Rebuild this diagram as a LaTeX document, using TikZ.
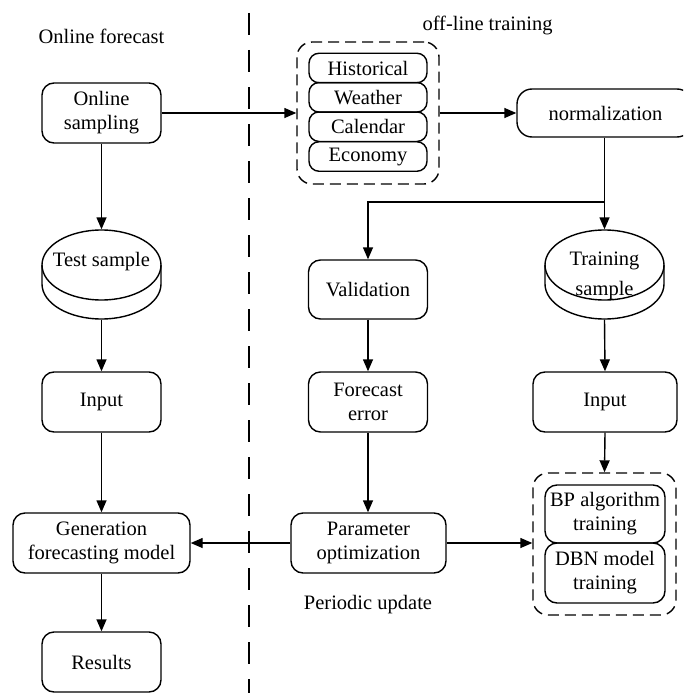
\documentclass[tikz,border=0pt]{standalone}
\usepackage{fontspec}
\setmainfont{Liberation Serif}
\newfontfamily\tnrfont{Liberation Serif}
\usetikzlibrary{arrows.meta}
\begin{document}
\begin{tikzpicture}[x=1pt,y=-1pt, line width=1.4pt,
  >={Triangle[length=12pt,width=10pt]},
  lbl/.style={font=\tnrfont\fontsize{20.5}{24}\selectfont, align=center, inner sep=0pt},
  box/.style={lbl, draw, rounded corners=12pt},
  itembox/.style={lbl, draw, rounded corners=10pt, minimum width=118pt, minimum height=29.5pt},
  grp/.style={draw, dash pattern=on 11pt off 6pt, rounded corners=15pt, inner sep=0pt},
  ghost/.style={inner sep=0pt}]
\useasboundingbox (0,0) rectangle (683,693);
\clip (0,0) rectangle (683,693);

% separator
\draw[dash pattern=on 22pt off 15pt] (249,13) -- (249,700);

% titles
\node[lbl] (t1) at (101.5,36) {Online forecast};
\node[lbl] (t2) at (487.5,25) {off-line training};
\node[lbl] (t3) at (368,605) {Periodic update};

% left column
\node[box, minimum width=119pt, minimum height=60pt] (os) at (101.5,113) {Online\\sampling};
\node[ghost, minimum width=119pt, minimum height=89pt] (ts) at (101.5,274.5) {};
\draw (42,265) -- (42,284) arc[start angle=180, end angle=0, x radius=59.5, y radius=35] -- (161,265);
\draw (101.5,265) ellipse [x radius=59.5, y radius=35];
\node[lbl] (tst) at (101.5,262) {Test sample};
\node[box, minimum width=119pt, minimum height=60pt] (inL) at (101.5,402) {Input};
\node[box, minimum width=177pt, minimum height=60pt] (gen) at (101.5,543) {Generation\\forecasting model};
\node[box, minimum width=119pt, minimum height=60pt] (res) at (101.5,662) {Results};

% data group
\node[grp, minimum width=142pt, minimum height=142pt] (dgrp) at (368,113) {};
\node[itembox] (h) at (368,68) {Historical};
\node[itembox] (w) at (368,97.3) {Weather};
\node[itembox] (c) at (368,126.7) {Calendar};
\node[itembox] (e) at (368,156.5) {Economy};

\node[box, rounded corners=15pt, minimum width=175pt, minimum height=48pt] (norm) at (604.5,113) {};
\node[lbl] (normt) at (605.5,113) {normalization};

% middle column
\node[box, minimum width=119pt, minimum height=59pt] (val) at (368,289.5) {Validation};
\node[box, minimum width=119pt, minimum height=60pt] (fe) at (368,402) {Forecast\\error};
\node[box, minimum width=155pt, minimum height=60pt] (par) at (368.5,543) {Parameter\\optimization};

% right column
\node[ghost, minimum width=119pt, minimum height=89pt] (trs) at (604.5,274.5) {};
\draw (545,265) -- (545,284) arc[start angle=180, end angle=0, x radius=59.5, y radius=35] -- (664,265);
\draw (604.5,265) ellipse [x radius=59.5, y radius=35];
\node[lbl, font=\tnrfont\fontsize{20.5}{30}\selectfont] (trst) at (604.5,276) {Training\\sample};
\node[box, minimum width=144pt, minimum height=60pt] (inR) at (605,402) {Input};
\node[grp, minimum width=143pt, minimum height=142pt] (mgrp) at (604.5,544) {};
\node[box, minimum width=120pt, minimum height=58pt] (bp) at (605,514) {BP algorithm\\training};
\node[box, minimum width=120pt, minimum height=60pt] (dbn) at (605,573) {DBN model\\training};

% connectors
\coordinate (j) at (604.5,202);
\draw[->] (os.east) -- (dgrp.west |- os.east);
\draw[->] (dgrp.east) -- (norm.west);
\draw (norm.south) -- (j);
\draw[->] (j) -- (trs.north);
\draw[->] (j) -| (val.north);
\draw[->] (os.south) -- (ts.north);
\draw[->] (ts.south) -- (inL.north);
\draw[->] (inL.south) -- (gen.north);
\draw[->] (gen.south) -- (res.north);
\draw[->] (val.south) -- (fe.north);
\draw[->] (fe.south) -- (fe.south |- par.north);
\draw[->] (trs.south) -- (inR.north);
\draw[->] (inR.south) -- (mgrp.north);
\draw[->] (par.west) -- (gen.east);
\draw[->] (par.east) -- (par.east -| mgrp.west);
\end{tikzpicture}
\end{document}
